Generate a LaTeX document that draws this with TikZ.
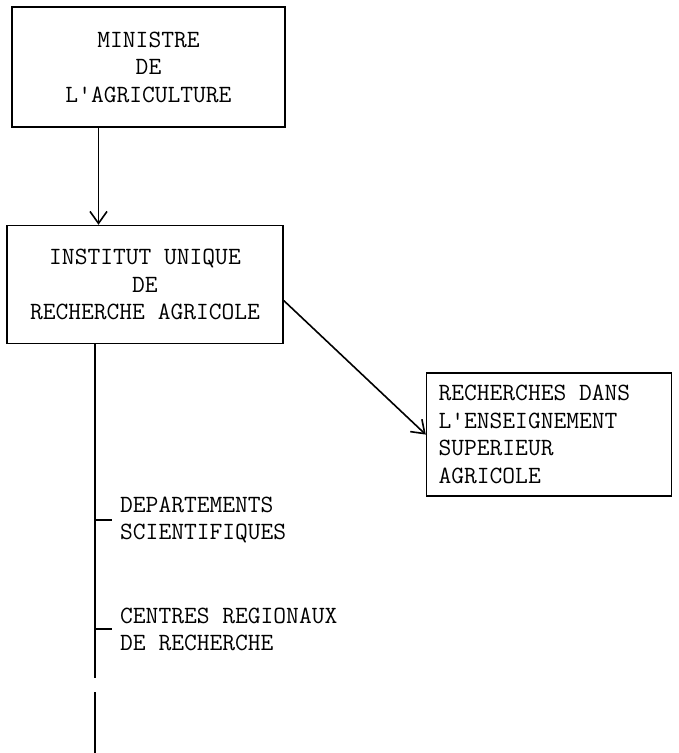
\documentclass[tikz,border=0pt]{standalone}
\usepackage{tikz}
\usetikzlibrary{arrows.meta, positioning}
\tikzstyle{boite} = [rectangle, draw=black, line width=1.6pt, text centered, align=center, font=\ttfamily\fontsize{24.8}{27.5}\selectfont]
\tikzstyle{texte} = [inner sep=0pt, align=flush left, anchor=west, font=\ttfamily\fontsize{24.8}{27}\selectfont]
\tikzstyle{trait} = [line width=1.6pt]
\tikzstyle{fleche} = [line width=1.6pt, -{Straight Barb[length=12pt, width=17pt]}]

\begin{document}
\begin{tikzpicture}[x=1pt, y=-1pt]
  \useasboundingbox (0,0) rectangle (679,753);

  \node (min)  [boite, minimum width=273pt, minimum height=120pt] at (148.5,67) {MINISTRE\\DE\\L'AGRICULTURE};
  \node (inst) [boite, minimum width=276pt, minimum height=118pt, below=97pt of min, xshift=-3.5pt] {INSTITUT UNIQUE\\DE\\RECHERCHE AGRICOLE};
  \node (rech) [boite, minimum width=245pt, minimum height=123pt, text width=221pt, inner sep=12pt, align=flush left, right=142pt of inst, yshift=-150pt] {RECHERCHES DANS\\L'ENSEIGNEMENT\\SUPERIEUR\\AGRICOLE};

  \node (dep) [texte] at (120,520) {DEPARTEMENTS\\SCIENTIFIQUES};
  \node (cen) [texte] at (120,629) {CENTRES REGIONAUX\\DE RECHERCHE};

  % tronc vertical
  \coordinate (haut) at ([xshift=-50pt]inst.south);
  \coordinate (coupure1) at (95,678);
  \coordinate (coupure2) at (95,692);
  \coordinate (bas) at (95,753);

  \draw [fleche] ([xshift=-50pt]min.south) -- ([xshift=-50pt]min.south |- inst.north);
  \draw [fleche] ([yshift=-16pt]inst.east) -- (rech.west);
  \draw [trait] (haut) -- (coupure1);
  \draw [trait] (coupure2) -- (bas);
  \draw [trait] (dep.west -| haut) -- ([xshift=-8pt]dep.west);
  \draw [trait] (cen.west -| haut) -- ([xshift=-8pt]cen.west);
\end{tikzpicture}
\end{document}
